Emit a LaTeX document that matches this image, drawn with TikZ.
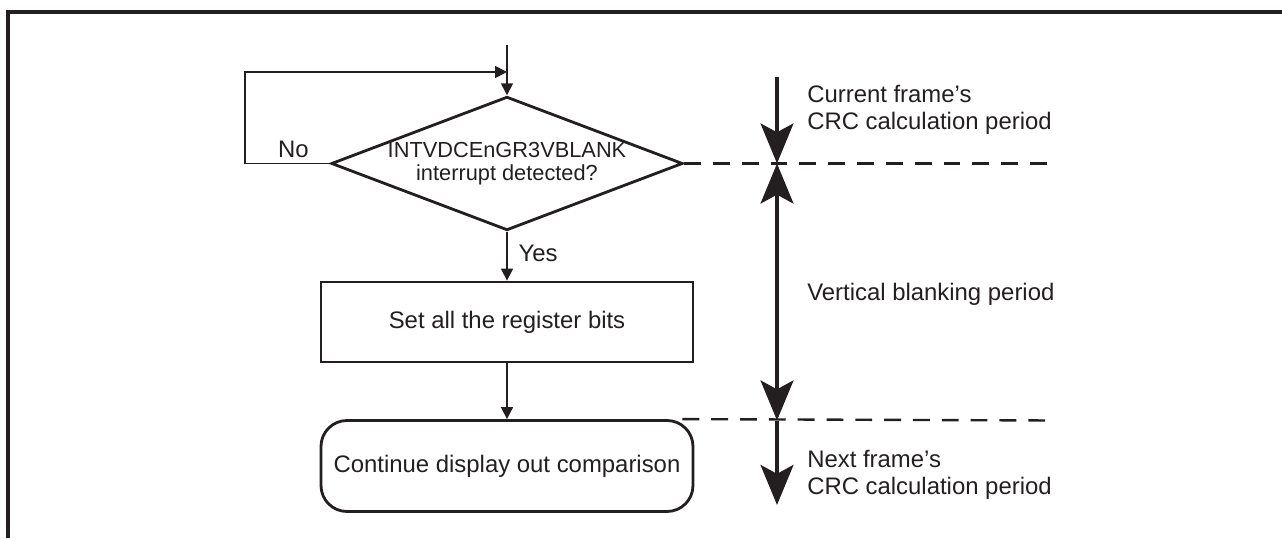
\documentclass[tikz,border=0pt]{standalone}
\usepackage{fontspec}
\setmainfont{Liberation Sans}
\usepackage{tikz}
\usepackage{xcolor}
\usetikzlibrary{arrows.meta,positioning,shapes.geometric,calc}
\definecolor{pen}{HTML}{231F20}
\newcommand{\bigtxt}{\fontsize{17}{19.5}\selectfont}
\newcommand{\midtxt}{\fontsize{15.5}{16.5}\selectfont}
\tikzset{
  decide/.style={diamond,draw=pen,line width=2pt,aspect=2.63,
                 minimum width=8.75cm,minimum height=3.325cm,
                 inner sep=0pt,align=center,font=\midtxt,text=pen},
  procbox/.style={rectangle,draw=pen,line width=2pt,
                  minimum width=9.3cm,minimum height=2cm,
                  align=center,font=\bigtxt,text=pen},
  termbox/.style={procbox,rounded corners=0.65cm,minimum height=2.275cm},
  flowarr/.style={-{Triangle[length=0.3cm,width=0.3cm]},line width=1.2pt,draw=pen},
  periodarr/.style={-{Stealth[length=1cm,width=0.82cm,inset=0.22cm]},line width=2.6pt,draw=pen},
  blankarr/.style={{Stealth[length=1cm,width=0.82cm,inset=0.22cm]}-{Stealth[length=1cm,width=0.82cm,inset=0.22cm]},line width=2.6pt,draw=pen},
  boundary/.style={line width=1.7pt,draw=pen,dash pattern=on 12pt off 8.5pt},
  note/.style={anchor=west,align=left,inner sep=0pt,font=\bigtxt,text=pen},
  lbl/.style={font=\bigtxt,text=pen}
}
\begin{document}
\begin{tikzpicture}[x=1cm,y=1cm]
  \useasboundingbox (0,0) rectangle (32.05,13.45);
  % outer frame
  \draw[line width=2.4pt,pen] (0.2,0) -- (0.2,13.15) -- (32.05,13.15);
  % flow
  \coordinate (entry) at (12.675,12.325);
  \coordinate (join) at (12.675,11.65);
  \node[decide] (vbl) at (12.675,9.3625) {INTVDCEnGR3VBLANK\\interrupt detected?};
  \node[procbox] (setreg) at (12.675,5.4) {Set all the register bits};
  \node[termbox] (cont) at (12.675,1.8) {Continue display out comparison};
  \draw[flowarr] (entry) -- (vbl.north);
  \draw[flowarr] (vbl.west) -- node[lbl,above,pos=0.43] {No} ++(-2.125,0) |- (join);
  \draw[flowarr] (vbl.south) -- node[lbl,right,pos=0.45,xshift=0.15cm] {Yes} (setreg.north);
  \draw[flowarr] (setreg.south) -- (cont.north);
  % periods
  \coordinate (curtop) at (19.425,11.525);
  \coordinate (b1) at (19.425,9.3625);
  \coordinate (b2) at (19.425,2.9375);
  \coordinate (nxtend) at (19.425,0.825);
  \coordinate (b1end) at (26.325,9.3625);
  \coordinate (b2beg) at ($(cont.north east)+(-0.3,0)$);
  \coordinate (b2end) at (26.325,2.9375);
  \draw[boundary] (vbl.east) -- (b1end);
  \draw[boundary] (b2beg) -- (b2end);
  \draw[periodarr] (curtop) -- (b1);
  \draw[blankarr] (b1) -- (b2);
  \draw[periodarr] (b2) -- (nxtend);
  \node[note] (curtxt) at (20.175,10.7) {Current frame's\\CRC calculation period};
  \node[note] (blanktxt) at (20.175,6.1) {Vertical blanking period};
  \node[note] (nxttxt) at (20.175,1.575) {Next frame's\\CRC calculation period};
\end{tikzpicture}
\end{document}
